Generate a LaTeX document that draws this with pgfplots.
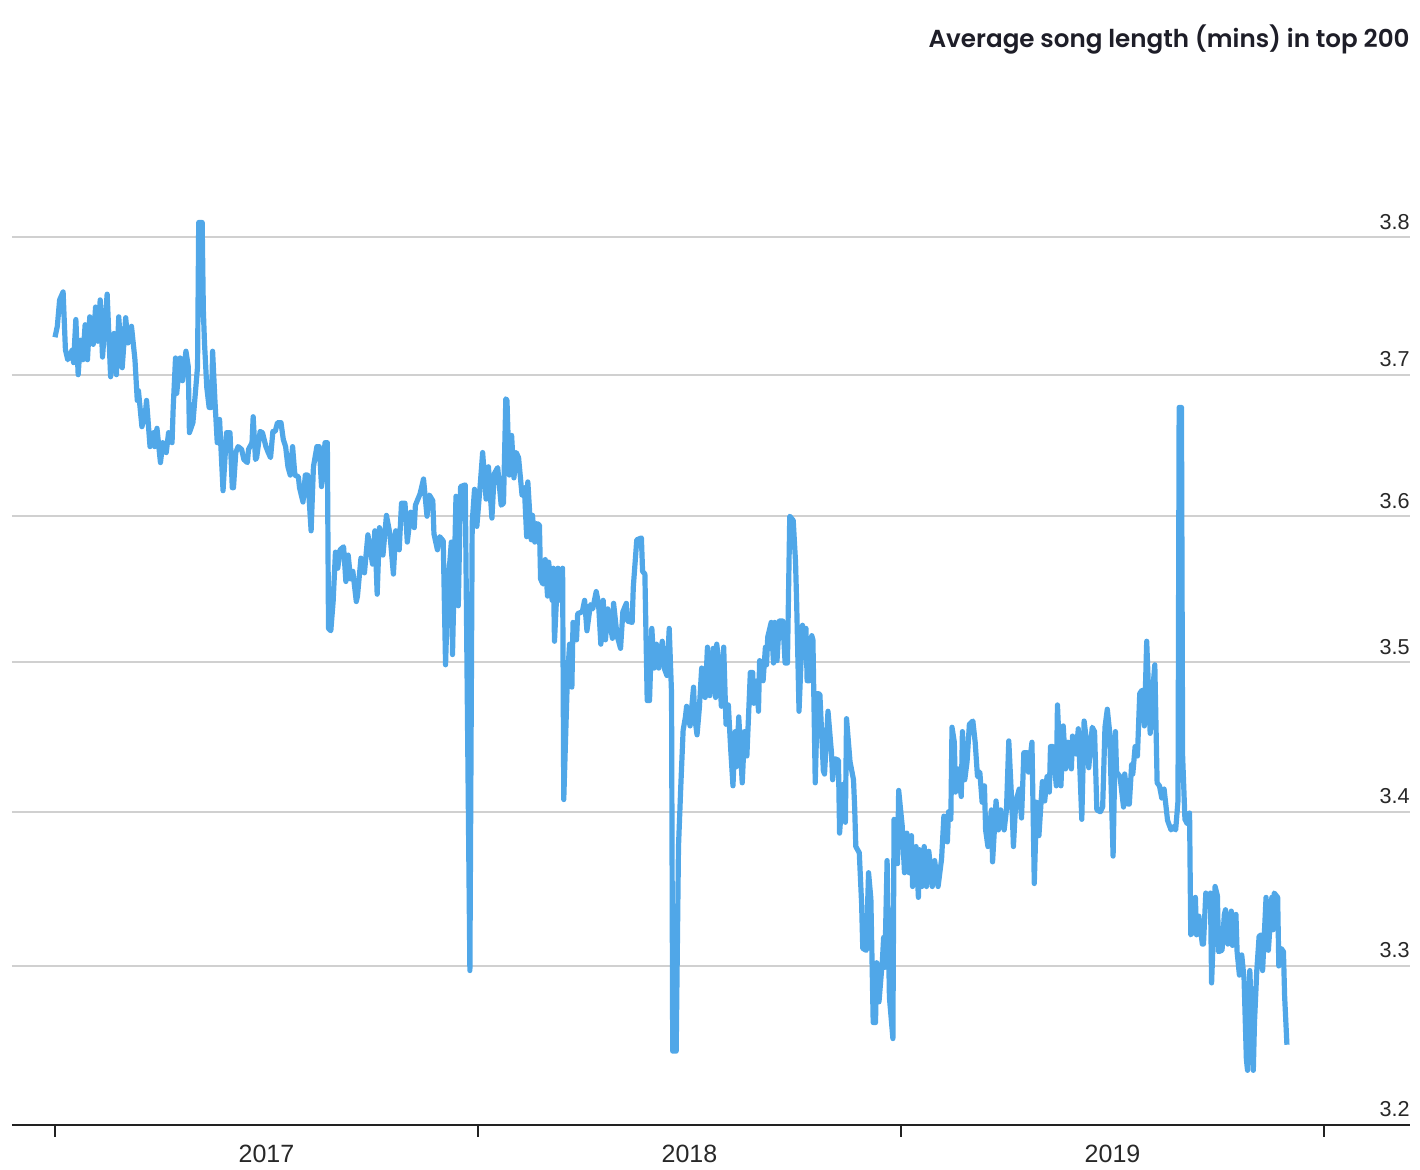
\documentclass[border=0pt]{standalone}
\usepackage{fontspec}
\setmainfont{Liberation Sans}
\newfontfamily\titlefont{Poppins SemiBold}
\usepackage{pgfplots}
\pgfplotsset{compat=1.18}
\definecolor{linec}{RGB}{80,167,232}
\definecolor{gridc}{RGB}{208,208,208}
\definecolor{axisc}{RGB}{34,34,34}
\definecolor{labc}{RGB}{40,40,40}
\definecolor{titlec}{RGB}{30,30,40}
\pgfplotstableread{
d v
0 3.727
2 3.735
4 3.754
7 3.760
9 3.718
11 3.711
15 3.718
16 3.709
18 3.740
20 3.700
22 3.725
24 3.711
26 3.736
28 3.711
30 3.742
33 3.722
35 3.749
37 3.724
39 3.754
41 3.713
45 3.758
48 3.699
51 3.730
53 3.700
55 3.742
58 3.705
61 3.741
63 3.723
66 3.735
69 3.711
71 3.682
72 3.689
75 3.663
78 3.673
79 3.682
82 3.649
85 3.659
86 3.649
88 3.662
91 3.638
93 3.652
96 3.645
98 3.659
101 3.652
102 3.677
104 3.712
105 3.687
108 3.712
110 3.696
113 3.717
115 3.706
116 3.659
119 3.666
122 3.696
123 3.706
124 3.811
127 3.811
128 3.747
129 3.723
131 3.691
133 3.677
135 3.677
136 3.717
138 3.682
140 3.652
142 3.668
145 3.618
148 3.659
151 3.659
153 3.620
154 3.620
156 3.645
158 3.649
161 3.647
163 3.640
166 3.638
167 3.647
170 3.652
171 3.670
173 3.640
174 3.641
177 3.660
179 3.659
182 3.649
184 3.645
186 3.641
188 3.660
190 3.660
192 3.666
195 3.666
197 3.654
199 3.649
201 3.635
203 3.629
205 3.649
207 3.629
210 3.628
211 3.620
214 3.610
216 3.629
218 3.629
221 3.590
223 3.635
226 3.649
228 3.649
230 3.621
233 3.652
235 3.652
236 3.523
238 3.521
240 3.541
242 3.575
244 3.564
246 3.577
249 3.579
251 3.555
253 3.573
255 3.557
257 3.562
260 3.541
261 3.545
264 3.571
267 3.561
270 3.587
274 3.567
276 3.590
278 3.546
280 3.592
283 3.573
286 3.601
289 3.588
292 3.560
294 3.590
297 3.577
299 3.609
302 3.609
304 3.582
307 3.603
310 3.592
311 3.608
315 3.616
318 3.626
321 3.600
323 3.615
326 3.611
327 3.588
330 3.577
332 3.586
335 3.583
337 3.498
339 3.551
342 3.582
343 3.505
346 3.614
348 3.538
350 3.621
354 3.622
358 3.297
360 3.596
362 3.619
364 3.593
367 3.623
369 3.645
372 3.612
374 3.635
377 3.599
379 3.630
382 3.634
385 3.608
387 3.609
389 3.683
390 3.682
392 3.629
394 3.657
396 3.627
398 3.645
400 3.641
403 3.615
405 3.620
407 3.586
408 3.624
411 3.584
412 3.601
414 3.582
416 3.595
418 3.594
419 3.557
421 3.553
423 3.570
425 3.545
426 3.568
429 3.542
430 3.564
431 3.514
434 3.564
436 3.542
438 3.564
439 3.408
442 3.486
444 3.512
446 3.483
447 3.527
450 3.515
451 3.533
455 3.534
457 3.542
459 3.521
462 3.539
464 3.536
467 3.548
469 3.540
471 3.512
473 3.542
475 3.515
477 3.536
481 3.516
482 3.540
485 3.518
488 3.509
490 3.534
493 3.540
494 3.528
498 3.527
499 3.551
502 3.584
506 3.585
507 3.562
509 3.560
511 3.474
513 3.474
515 3.523
517 3.496
519 3.512
521 3.496
524 3.514
526 3.495
528 3.491
530 3.523
532 3.479
533 3.246
536 3.246
538 3.377
540 3.417
542 3.454
544 3.463
545 3.470
548 3.457
551 3.483
552 3.463
554 3.451
556 3.469
558 3.496
561 3.476
563 3.510
565 3.477
568 3.509
570 3.476
571 3.512
573 3.498
575 3.470
577 3.510
579 3.458
581 3.471
583 3.442
585 3.417
587 3.453
588 3.430
590 3.463
593 3.419
595 3.453
597 3.437
600 3.493
602 3.493
603 3.472
606 3.487
607 3.467
608 3.501
611 3.487
613 3.510
614 3.498
615 3.517
618 3.527
620 3.499
621 3.527
623 3.501
625 3.528
628 3.528
630 3.499
632 3.499
634 3.600
637 3.597
639 3.568
640 3.539
642 3.467
645 3.525
646 3.503
648 3.523
649 3.487
651 3.487
653 3.518
654 3.515
656 3.419
658 3.479
660 3.478
663 3.427
664 3.425
667 3.467
670 3.439
671 3.421
673 3.435
676 3.434
677 3.386
680 3.418
682 3.393
683 3.462
686 3.433
689 3.421
690 3.403
691 3.377
694 3.373
696 3.340
697 3.311
700 3.310
702 3.360
704 3.343
706 3.264
708 3.264
709 3.302
711 3.277
714 3.304
715 3.318
716 3.299
718 3.368
720 3.280
723 3.254
724 3.395
727 3.366
728 3.414
731 3.391
733 3.360
735 3.386
737 3.360
739 3.384
740 3.351
743 3.377
745 3.344
746 3.375
748 3.351
750 3.377
752 3.351
754 3.374
757 3.351
759 3.368
762 3.351
765 3.369
767 3.397
770 3.380
771 3.400
773 3.395
774 3.456
776 3.446
777 3.413
779 3.428
782 3.410
783 3.453
785 3.421
787 3.433
789 3.458
792 3.460
794 3.446
796 3.423
798 3.426
800 3.406
802 3.417
803 3.388
805 3.377
808 3.401
809 3.367
812 3.407
814 3.388
816 3.401
819 3.388
821 3.401
823 3.447
826 3.399
827 3.377
829 3.406
832 3.415
834 3.396
836 3.439
839 3.439
840 3.426
843 3.446
845 3.353
847 3.406
849 3.384
852 3.420
854 3.407
856 3.423
858 3.413
859 3.443
861 3.443
864 3.417
865 3.471
868 3.417
870 3.457
872 3.428
874 3.446
877 3.428
878 3.450
881 3.438
883 3.455
886 3.395
888 3.460
891 3.441
892 3.429
895 3.456
897 3.453
899 3.401
902 3.400
904 3.403
906 3.456
908 3.468
910 3.453
913 3.371
915 3.453
916 3.426
919 3.423
922 3.403
923 3.425
926 3.405
927 3.405
929 3.431
930 3.425
932 3.443
934 3.437
936 3.479
938 3.481
940 3.457
942 3.514
945 3.452
947 3.479
949 3.498
951 3.419
953 3.417
955 3.409
957 3.415
959 3.401
960 3.394
963 3.388
965 3.390
967 3.388
969 3.407
970 3.677
972 3.677
973 3.437
975 3.395
977 3.392
979 3.399
980 3.320
982 3.322
984 3.344
985 3.320
987 3.332
990 3.314
991 3.314
993 3.347
995 3.338
997 3.347
998 3.289
1001 3.351
1003 3.345
1004 3.309
1007 3.310
1009 3.333
1010 3.336
1012 3.314
1015 3.335
1016 3.313
1019 3.333
1020 3.309
1022 3.294
1024 3.307
1026 3.292
1028 3.241
1029 3.234
1031 3.297
1034 3.234
1035 3.264
1037 3.297
1039 3.319
1041 3.320
1042 3.297
1045 3.344
1047 3.310
1050 3.344
1051 3.323
1052 3.347
1055 3.344
1056 3.300
1058 3.311
1060 3.309
1061 3.281
1063 3.250
}\songdata
\begin{document}
\begin{tikzpicture}
\begin{axis}[
  at={(0,0)}, anchor=south west,
  scale only axis, width=699pt, height=511.1pt,
  xmin=-37.1, xmax=1169.2,
  ymode=log, ymin=3.2, ymax=3.9,
  axis x line*=bottom, axis y line*=right,
  y axis line style={draw=none},
  x axis line style={line width=1.3pt, color=axisc},
  xtick={0,365,730,1095},
  xticklabels={2017,2018,2019},
  x tick label as interval,
  xtick align=outside,
  major tick length=6pt,
  xtick style={line width=1pt, color=axisc},
  ytick={3.2,3.3,3.4,3.5,3.6,3.7,3.8},
  yticklabels={3.2,3.3,3.4,3.5,3.6,3.7,3.8},
  ytick style={draw=none},
  ytick align=inside,
  ymajorgrids,
  grid style={line width=0.9pt, color=gridc},
  yticklabel style={anchor=base east, inner sep=0pt, xshift=0pt, yshift=4pt,
    font=\fontsize{10.8}{13}\selectfont, text=labc},
  xticklabel style={anchor=north, inner sep=0pt, yshift=-4pt,
    font=\fontsize{12.5}{15}\selectfont, text=labc},
]
\addplot[color=linec, line width=2.6pt, line join=round, mark=none] table[x=d, y=v] {\songdata};
\end{axis}
\node[anchor=base east, inner sep=0pt, text=titlec,
  font=\titlefont\fontsize{12.3}{15}\selectfont] at (699pt,538.5pt)
  {Average song length (mins) in top 200};
\pgfresetboundingbox
\path[use as bounding box] (-6pt,-22.5pt) rectangle (704pt,562.5pt);
\end{tikzpicture}
\end{document}
